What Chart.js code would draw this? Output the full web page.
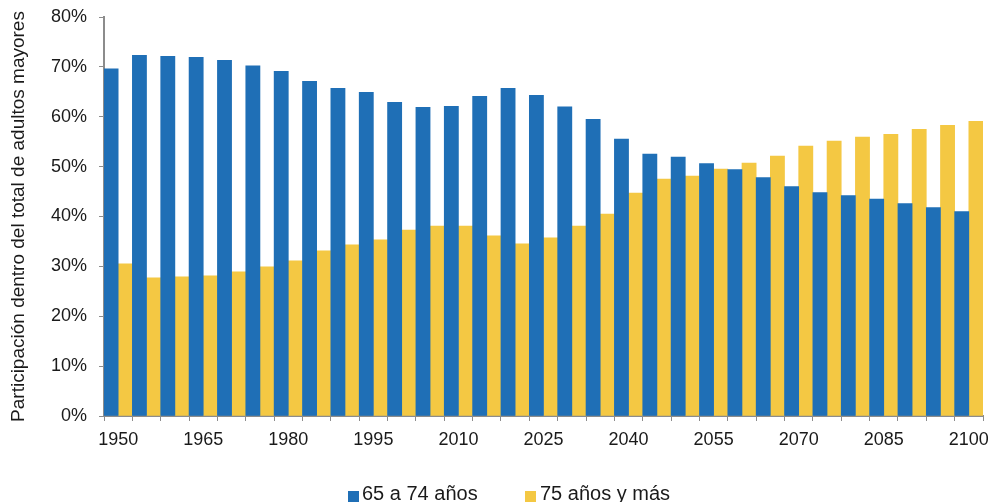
<!DOCTYPE html>
<html>
<head>
<meta charset="utf-8">
<script src="https://cdn.jsdelivr.net/npm/chart.js@4/dist/chart.umd.min.js"></script>
<style>
  html, body { margin: 0; padding: 0; background: #fff; }
  #wrap { position: relative; width: 988px; height: 502px; overflow: hidden; }
  #chart { position: absolute; left: 0; top: 0; }
  .legend { position: absolute; left: 0; top: 483px; width: 988px; height: 20px;
            font: 20px "Liberation Sans", Arial, sans-serif; color: #1a1a1a;
            line-height: 20px; white-space: nowrap; }
  .legend .box { position: absolute; top: 8px; width: 11px; height: 11px; }
  .legend .txt { position: absolute; top: 0; }
</style>
</head>
<body>
<div id="wrap">
  <canvas id="chart" width="988" height="502"></canvas>
  <div class="legend">
    <span class="box" style="left:348px;background:#1f6fb6"></span>
    <span class="txt" id="lg0" style="left:362px"></span>
    <span class="box" style="left:525px;background:#f4c843"></span>
    <span class="txt" id="lg1" style="left:540px"></span>
  </div>
</div>
<script>
// Years (five-year steps)
const years = [1950, 1955, 1960, 1965, 1970, 1975, 1980, 1985, 1990, 1995,
               2000, 2005, 2010, 2015, 2020, 2025, 2030, 2035, 2040, 2045,
               2050, 2055, 2060, 2065, 2070, 2075, 2080, 2085, 2090, 2095, 2100];

// Share of each age group within the older-adult population (%)
const age65to74 = [69.6, 72.3, 72.1, 71.9, 71.3, 70.2, 69.1, 67.1, 65.7, 64.9,
                   62.9, 61.9, 62.1, 64.1, 65.7, 64.3, 62.0, 59.5, 55.5, 52.5,
                   51.9, 50.6, 49.4, 47.8, 46.0, 44.8, 44.2, 43.5, 42.6, 41.8, 41.0];
const age75plus = [30.5, 27.7, 27.9, 28.1, 28.9, 29.9, 31.1, 33.1, 34.3, 35.3,
                   37.3, 38.1, 38.1, 36.1, 34.5, 35.7, 38.1, 40.5, 44.7, 47.5,
                   48.1, 49.5, 50.7, 52.1, 54.1, 55.1, 55.9, 56.5, 57.5, 58.3, 59.1];

const seriesNames = ['65 a 74 años', '75 años y más'];
const yTitle = 'Participación dentro del total de adultos mayores';
const labelEvery = 3;

const FONT = '"Liberation Sans", Arial, sans-serif';
const AXIS = '#8c8c8c';
const TEXT = '#1a1a1a';

document.getElementById('lg0').textContent = seriesNames[0];
document.getElementById('lg1').textContent = seriesNames[1];

new Chart(document.getElementById('chart'), {
  type: 'bar',
  data: {
    labels: years.map(String),
    datasets: [
      { label: seriesNames[0], data: age65to74, backgroundColor: '#1f6fb6', borderWidth: 0 },
      { label: seriesNames[1], data: age75plus, backgroundColor: '#f4c843', borderWidth: 0 }
    ]
  },
  options: {
    responsive: false,
    animation: false,
    devicePixelRatio: 1,
    layout: { padding: { top: 17, right: 5, bottom: 0, left: 0 } },
    datasets: { bar: { categoryPercentage: 1.0, barPercentage: 1.0 } },
    plugins: { legend: { display: false }, tooltip: { enabled: false } },
    scales: {
      x: {
        offset: true,
        grid: { display: true, offset: true, drawOnChartArea: false, drawTicks: true,
                tickLength: 5, color: AXIS, lineWidth: 1 },
        border: { display: true, color: AXIS, width: 2 },
        ticks: {
          autoSkip: false, maxRotation: 0, minRotation: 0, padding: 8,
          color: TEXT, font: { family: FONT, size: 18 },
          callback: (v, i) => (i % labelEvery === 0 ? String(years[i]) : '')
        },
        afterFit: (s) => { s.height = 86; s.paddingLeft = 0; s.paddingRight = 0; }
      },
      y: {
        min: 0, max: 80,
        grid: { display: true, drawOnChartArea: false, drawTicks: true,
                tickLength: 5, color: AXIS, lineWidth: 1 },
        border: { display: true, color: AXIS, width: 2 },
        ticks: {
          stepSize: 10, padding: 12, color: TEXT,
          font: { family: FONT, size: 18 },
          callback: (v) => v + '%'
        },
        title: {
          display: true, text: yTitle, color: TEXT,
          font: { family: FONT, size: 19 }, padding: { top: 7, bottom: 0 }
        },
        afterFit: (s) => { s.width = 104; s.paddingTop = 0; s.paddingBottom = 0; }
      }
    }
  }
});
</script>
</body>
</html>
